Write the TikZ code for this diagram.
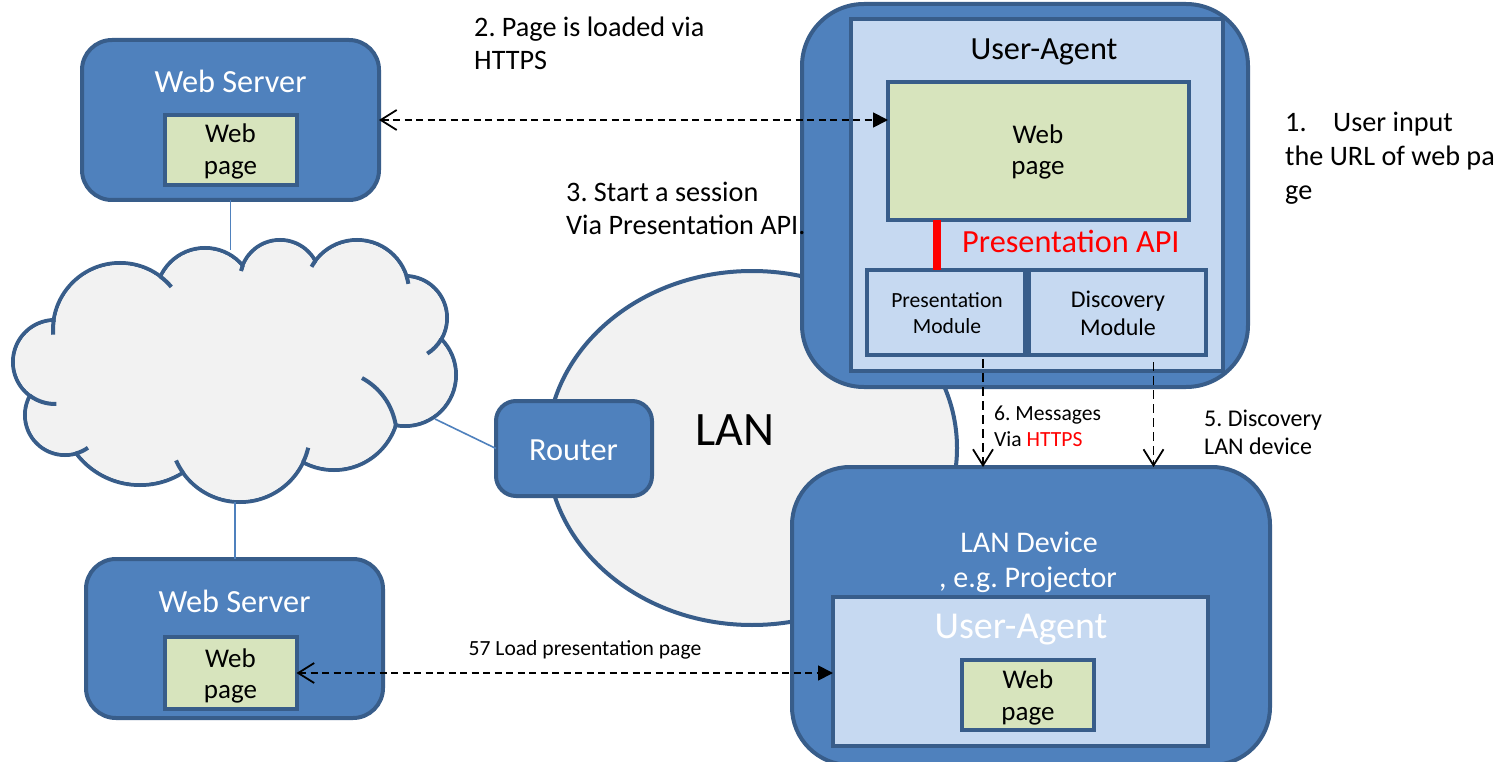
\documentclass[tikz,border=0pt]{standalone}
\usepackage{fontspec}
\setmainfont{Carlito}
\usetikzlibrary{arrows.meta}
\definecolor{blueM}{HTML}{4F81BD}
\definecolor{blueD}{HTML}{385D8A}
\definecolor{blueL}{HTML}{C6D9F1}
\definecolor{greenL}{HTML}{D7E4BD}
\definecolor{grayF}{HTML}{F2F2F2}
\frenchspacing
\begin{document}
\begin{tikzpicture}[x=1pt,y=-1pt,
  box/.style={draw=blueD, line width=4pt, inner sep=0pt, outer sep=0pt},
  srv/.style={box, fill=blueM, rounded corners=#1},
  lt/.style={box, fill=blueL},
  pg/.style={box, fill=greenL},
  lbl/.style={inner sep=0pt, anchor=base},
  lblw/.style={inner sep=0pt, anchor=base west},
  fA/.style={font=\fontsize{32.3}{39}\selectfont},
  fB/.style={font=\fontsize{27}{33}\selectfont},
  fC/.style={font=\fontsize{21.6}{26}\selectfont},
  fD/.style={font=\fontsize{24}{29}\selectfont},
  fE/.style={font=\fontsize{28.2}{34}\selectfont},
  fF/.style={font=\fontsize{30}{36}\selectfont},
  fG/.style={font=\fontsize{38}{46}\selectfont},
  fH/.style={font=\fontsize{48}{58}\selectfont},
  darr/.style={black, line width=1.8pt, dash pattern=on 7pt off 4.5pt},
  thinln/.style={blueM, line width=1.6pt},
  cloudln/.style={blueD, line width=4pt},
]
\clip (0,0) rectangle (1510,762);
\fill[white] (0,0) rectangle (1510,762);

% ---------------- cloud ----------------
\foreach \cx/\cy/\r in {55/362/42, 65/415/40, 140/405/80, 240/432/70, 334/405/65, 405/375/51, 405/318/42, 357/292/52, 280/280/40, 205/297/49, 120/330/67}
  \draw[cloudln] (\cx,\cy) circle[radius=\r pt];
\fill[grayF] (235,370) ellipse[x radius=190pt, y radius=95pt];
\foreach \cx/\cy/\r in {55/362/40, 65/415/38, 140/405/78, 240/432/68, 334/405/63, 405/375/49, 405/318/40, 357/292/50, 280/280/38, 205/297/47, 120/330/65}
  \fill[grayF] (\cx,\cy) circle[radius=\r pt];
% inner folds of the cloud
\draw[cloudln] (120,330) ++(188.6:67) arc[start angle=188.6, end angle=176, radius=67];
\draw[cloudln] (55,362) ++(126.6:42) arc[start angle=126.6, end angle=88, radius=42];
\draw[cloudln] (65,415) ++(73.6:40) arc[start angle=73.6, end angle=55, radius=40];
\draw[cloudln] (240,432) ++(144.6:70) arc[start angle=144.6, end angle=156, radius=70];
\draw[cloudln] (240,432) ++(25.6:70) arc[start angle=25.6, end angle=13, radius=70];
\draw[cloudln] (395.8,425.2) .. controls (392,404) and (380,388) .. (362,378);
\draw[cloudln] (405,318) ++(30.3:42) arc[start angle=30.3, end angle=58, radius=42];
\draw[cloudln] (357,292) ++(-17.8:52) arc[start angle=-17.8, end angle=-9, radius=52];
\draw[cloudln] (357,292) ++(216.6:52) arc[start angle=216.6, end angle=209, radius=52];
\draw[cloudln] (280,280) ++(201:40) arc[start angle=201, end angle=193, radius=40];
\draw[cloudln] (120,330) ++(-52.8:67) arc[start angle=-52.8, end angle=-40, radius=67];
\coordinate (cloudtop) at (231,250);
\coordinate (cloudbot) at (235,502);
\coordinate (cloudr) at (435,419);

% ---------------- LAN ----------------
\draw[blueD, fill=grayF, line width=4pt] (752,448) ellipse[x radius=205pt, y radius=177pt];
\node[lbl, fH] (lantxt) at (735,445) {LAN};

% ---------------- router ----------------
\node[srv=20pt, minimum width=156pt, minimum height=95pt] (router) at (574,448.5) {};
\node[lbl, fA, white] (routertxt) at (573.5,460) {Router};

% ---------------- web servers ----------------
\node[srv=30pt, minimum width=297pt, minimum height=160pt] (ws1) at (230.5,120) {};
\node[pg, minimum width=132pt, minimum height=70pt] (ws1p) at (230.5,150) {};
\node[lbl, fA, white] (ws1t) at (230.5,93) {Web Server};
\node[lbl, fB] (ws1pa) at (230.5,143) {Web};
\node[lbl, fB] (ws1pb) at (230.5,175) {page};

\node[srv=30pt, minimum width=297pt, minimum height=159pt] (ws2) at (234.5,638.5) {};
\node[pg, minimum width=132pt, minimum height=72pt] (ws2p) at (230.5,673) {};
\node[lbl, fA, white] (ws2t) at (234.5,612) {Web Server};
\node[lbl, fB] (ws2pa) at (230.5,667) {Web};
\node[lbl, fB] (ws2pb) at (230.5,698) {page};

% connectors to cloud
\draw[thinln] (ws1.south) -- (ws1.south |- cloudtop);
\draw[thinln] (cloudbot) -- (cloudbot |- ws2.north);
\draw[thinln] (cloudr) -- (router.west);

% ---------------- user agent (top) ----------------
\node[srv=62pt, minimum width=446pt, minimum height=383pt] (ua) at (1025,195.5) {};
\node[lt, minimum width=372pt, minimum height=352pt] (uain) at (1037,195) {};
\node[lbl, fA] (uatxt) at (1044,60) {User-Agent};
\node[pg, minimum width=301pt, minimum height=138pt] (uap) at (1038.5,151) {};
\node[lbl, fB] (uapa) at (1038,144) {Web};
\node[lbl, fB] (uapb) at (1038,175) {page};
\node[lt, minimum width=158pt, minimum height=85pt] (pm) at (946,312.5) {};
\node[lt, minimum width=177pt, minimum height=85pt] (dm) at (1117.5,312.5) {};
\node[lbl, fC] (pma) at (947,307) {Presentation};
\node[lbl, fC] (pmb) at (947,333) {Module};
\node[lbl, fD] (dma) at (1118,307) {Discovery};
\node[lbl, fD] (dmb) at (1118,335) {Module};
\coordinate (rbar) at (937,0);
\draw[red, line width=8pt] (rbar |- uap.south) -- (rbar |- pm.north);
\node[lblw, fA, red] (apitxt) at (962,252) {Presentation API};

% ---------------- LAN device ----------------
\node[srv=58pt, minimum width=478pt, minimum height=298pt] (ld) at (1031,616) {};
\node[lbl, fF, white] (lda) at (1029,552) {LAN Device};
\node[lbl, fF, white] (ldb) at (1028,587) {, e.g. Projector};
\node[lt, minimum width=375pt, minimum height=149pt] (ldua) at (1020.5,671.5) {};
\node[lbl, fG, white] (lduatxt) at (1021,638) {User-Agent};
\node[pg, minimum width=132pt, minimum height=70pt] (ldp) at (1028,695) {};
\node[lbl, fB] (ldpa) at (1028,688) {Web};
\node[lbl, fB] (ldpb) at (1028,720) {page};

% ---------------- arrows ----------------
\draw[darr, {Straight Barb[length=16pt,width=20pt]}-{Triangle[length=15pt,width=15pt]}]
  (ws1.east) -- (ws1.east -| uap.west);
\draw[darr, {Straight Barb[length=16pt,width=20pt]}-{Triangle[length=15pt,width=15pt]}]
  (ws2p.east) -- (ws2p.east -| ldua.west);
\coordinate (m1) at ([xshift=37pt, yshift=-4pt]pm.south);
\coordinate (d1) at ([xshift=36pt, yshift=-7pt]dm.south);
\draw[darr, dash pattern=on 9pt off 5pt, -{Straight Barb[length=16pt,width=20pt]}] (m1) -- (m1 |- ld.north);
\draw[darr, dash pattern=on 9pt off 5pt, -{Straight Barb[length=16pt,width=20pt]}] (d1) -- (d1 |- ld.north);

% ---------------- labels ----------------
\node[lblw, fE] (l2a) at (474,37) {2. Page is loaded via};
\node[lblw, fE] (l2b) at (474,70) {HTTPS};
\node[lblw, fE] (l3a) at (566,202) {3. Start a session};
\node[lblw, fE] (l3b) at (566,234) {Via Presentation API.};
\node[lblw, fE] (l1n) at (1285,132) {1.};
\node[lblw, fE] (l1a) at (1333,132) {User input};
\node[lblw, fE] (l1b) at (1285,166) {the URL of web pa};
\node[lblw, fE] (l1c) at (1285,200) {ge};
\node[lblw, fC] (l6a) at (994,420) {6. Messages};
\node[lblw, fC] (l6b) at (994,446) {Via \textcolor{red}{HTTPS}};
\node[lblw, fD] (l5a) at (1204,426) {5. Discovery};
\node[lblw, fD] (l5b) at (1204,454) {LAN device};
\node[lbl, fC] (l57) at (585,655) {57 Load presentation page};
\end{tikzpicture}
\end{document}
